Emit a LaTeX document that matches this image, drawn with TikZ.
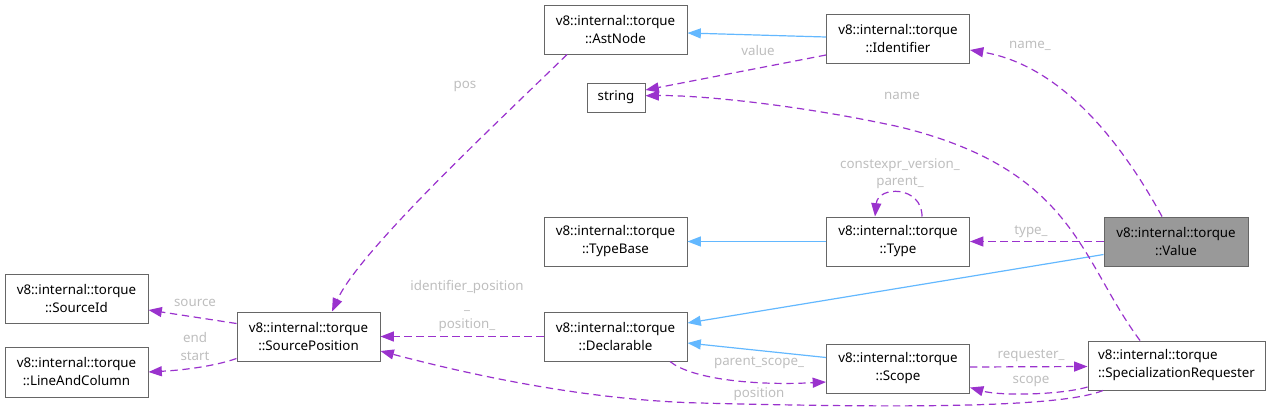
\documentclass[tikz,border=0pt]{standalone}
\usepackage{fontspec}
\setmainfont{Noto Sans}
\usetikzlibrary{arrows.meta,calc}
\definecolor{edgeblue}{HTML}{63B8FF}
\definecolor{edgepurple}{HTML}{9A32CD}
\definecolor{boxgray}{HTML}{666666}
\definecolor{labelgray}{HTML}{BEBEBE}
\definecolor{fillgray}{HTML}{999999}
\begin{document}
\begin{tikzpicture}[x=0.75pt,y=-0.75pt,
  cls/.style={draw=boxgray, line width=0.75pt, minimum width=107.25pt, minimum height=36.75pt, inner sep=0pt, align=center, font=\fontsize{10pt}{13.5pt}\selectfont},
  lbl/.style={text=labelgray, inner sep=0pt, align=center, font=\fontsize{10pt}{14.25pt}\selectfont},
  inh/.style={draw=edgeblue, line width=0.9pt, -{Triangle[length=10pt,width=7.5pt]}},
  use/.style={draw=edgepurple, line width=0.9pt, dash pattern=on 5.5pt off 3.5pt, -{Triangle[length=10pt,width=7.5pt]}},
]
\useasboundingbox (0,0) rectangle (1270,412);

% nodes
\node[cls] (ast) at (615.5,29.5) {v8::internal::torque\\::AstNode};
\node[cls] (ident) at (898,38.5) {v8::internal::torque\\::Identifier};
\node[cls, minimum width=43.5pt, minimum height=21.75pt] (str) at (616,97.5) {string};
\node[cls] (tbase) at (615.5,241.5) {v8::internal::torque\\::TypeBase};
\node[cls] (type) at (898,241.5) {v8::internal::torque\\::Type};
\node[cls, fill=fillgray, minimum width=108pt] (value) at (1176,241.5) {v8::internal::torque\\::Value};
\node[cls] (srcid) at (76.5,298.5) {v8::internal::torque\\::SourceId};
\node[cls, minimum height=37.5pt] (lac) at (76.5,372) {v8::internal::torque\\::LineAndColumn};
\node[cls] (srcpos) at (308.5,336.5) {v8::internal::torque\\::SourcePosition};
\node[cls] (decl) at (615.5,336.5) {v8::internal::torque\\::Declarable};
\node[cls] (scope) at (898,368.5) {v8::internal::torque\\::Scope};
\node[cls, minimum width=132.75pt, align=left] (req) at (1176.5,365.5) {v8::internal::torque\\::SpecializationRequester};

% inheritance edges
\draw[inh] ($(ident.west)+(0,-1.5)$) -- ($(ast.east)+(0,3.5)$);
\draw[inh] (type.west) -- (tbase.east);
\draw[inh] ($(value.west)+(0,13)$) -- ($(decl.east)+(0,-13.5)$);
\draw[inh] ($(scope.west)+(0,-11)$) -- ($(decl.east)+(0,6.5)$);

% usage edges
\draw[use] ($(ident.west)+(0,16.5)$) -- ($(str.east)+(0,-7.5)$);
\node[lbl] (lvalue) at (758,50) {value};

\draw[use] ($(value.north)+(-14,0)$) .. controls (1120,140) and (1060,65) .. ($(ident.east)+(0,11.5)$);
\node[lbl] (lname_) at (1030,46) {name\_};

\draw[use] ($(req.north)+(-36.5,0)$) .. controls (1080,260) and (1075,170) .. (900,127) .. controls (800,105) and (700,95) .. ($(str.east)+(0,-1.8)$);
\node[lbl] (lname) at (902,96) {name};

\draw[use] ($(ast.south)+(-48.5,0)$) .. controls (500,120) and (360,250) .. ($(srcpos.north)+(23.5,0)$);
\node[lbl] (lpos) at (465,86) {pos};

\draw[use] ($(type.north)+(24,0)$) .. controls ($(type.north)+(24,-31)$) and ($(type.north)+(-20,-31)$) .. ($(type.north)+(-23,0)$);
\node[lbl] (lcv) at (900,165) {constexpr\_version\_};
\node[lbl] (lpar) at (900,183) {parent\_};

\draw[use] (value.west) -- (type.east);
\node[lbl] (ltype) at (1031,232) {type\_};

\draw[use] (decl.west) -- (srcpos.east);
\node[lbl] (lidpos) at (467,306) {identifier\_position\\\_\\position\_};

\draw[use] ($(srcpos.west)+(0,-13)$) -- ($(srcid.east)+(0,11.5)$);
\node[lbl] (lsource) at (195,303) {source};

\draw[use] ($(srcpos.south west)+(0,-3)$) .. controls (215,366) and (185,370) .. (lac.east);
\node[lbl] (lend) at (195,337) {end};
\node[lbl] (lstart) at (195,356) {start};

\draw[use] ($(decl.south)+(54.5,0)$) .. controls (690,378) and (750,386) .. ($(scope.west)+(0,13.5)$);
\node[lbl] (lps) at (759,363) {parent\_scope\_};

\draw[use] ($(scope.east)+(0,-1.5)$) -- ($(req.west)+(0,1)$);
\node[lbl] (lreq) at (1031,356) {requester\_};

\draw[use] ($(req.west)+(0,21.5)$) .. controls (1060,395) and (1000,396) .. ($(scope.east)+(0,19)$);
\node[lbl] (lscope) at (1031,381) {scope};

\draw[use] ($(req.south)+(-73.5,0)$) .. controls (1060,408) and (900,408) .. (700,403) .. controls (580,400) and (460,372) .. ($(srcpos.east)+(0,14.5)$);
\node[lbl] (lposition) at (759,394) {position};
\end{tikzpicture}
\end{document}
